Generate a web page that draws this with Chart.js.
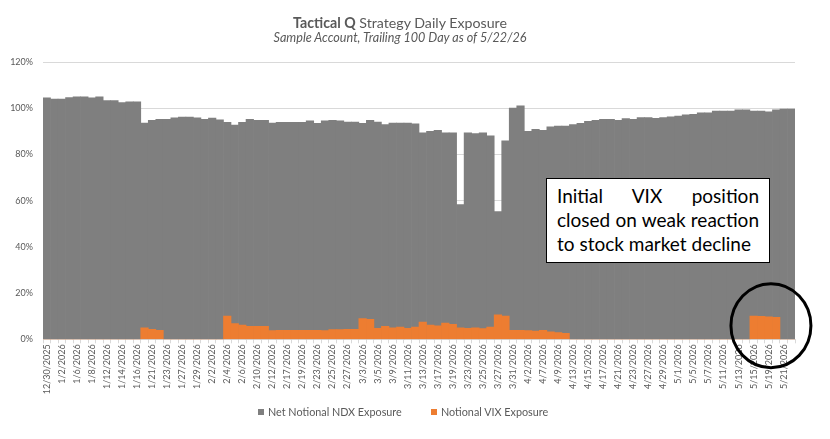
<!DOCTYPE html>
<html>
<head>
<meta charset="utf-8">
<title>Tactical Q Strategy Daily Exposure</title>
<script src="https://cdn.jsdelivr.net/npm/chart.js@4.4.1/dist/chart.umd.min.js"></script>
<style>
    body { margin: 0; background: #fff; font-family: Lato, "Open Sans", sans-serif; }
    #wrap { position: relative; width: 830px; height: 439px; }
    #exposureChart { position: absolute; left: 0; top: 0; }
    .chart-title { position: absolute; left: 0; width: 800px; text-align: center; color: #595959; white-space: nowrap; line-height: 1.2; }
    #title { top: 13.5px; font-size: 14.2px; }
    #subtitle { top: 29.5px; font-size: 12.6px; font-style: italic; }
    #note {
        position: absolute; left: 546px; top: 178px; width: 224px; height: 85px;
        box-sizing: border-box; border: 1px solid #000; background: #fff;
        padding: 5px 10px 0 10px; font-size: 19px; line-height: 24px; color: #000;
    }
    #note div { white-space: nowrap; }
    #note .just { text-align: justify; text-align-last: justify; }
    .legend-item { position: absolute; top: 404px; height: 16px; line-height: 16px; font-size: 10.8px; color: #595959; white-space: nowrap; }
    .legend-item i { display: inline-block; width: 6px; height: 6px; margin-right: 4px; vertical-align: 1px; }
</style>
</head>
<body>
<div id="wrap">
    <canvas id="exposureChart" width="830" height="439"></canvas>
    <div id="title" class="chart-title"><b>Tactical Q</b> Strategy Daily Exposure</div>
    <div id="subtitle" class="chart-title">Sample Account, Trailing 100 Day as of 5/22/26</div>
    <div id="note">
        <div class="just">Initial VIX position</div>
        <div class="just">closed on weak reaction</div>
        <div>to stock market decline</div>
    </div>
    <div id="legend"></div>
</div>
<script>
// Trading days shown on the x axis
const dates = [
    '12/30/2025', '12/31/2025', '1/2/2026', '1/5/2026', '1/6/2026', '1/7/2026', '1/8/2026', '1/9/2026', '1/12/2026', '1/13/2026',
    '1/14/2026', '1/15/2026', '1/16/2026', '1/20/2026', '1/21/2026', '1/22/2026', '1/23/2026', '1/26/2026', '1/27/2026', '1/28/2026',
    '1/29/2026', '1/30/2026', '2/2/2026', '2/3/2026', '2/4/2026', '2/5/2026', '2/6/2026', '2/9/2026', '2/10/2026', '2/11/2026',
    '2/12/2026', '2/13/2026', '2/17/2026', '2/18/2026', '2/19/2026', '2/20/2026', '2/23/2026', '2/24/2026', '2/25/2026', '2/26/2026',
    '2/27/2026', '3/2/2026', '3/3/2026', '3/4/2026', '3/5/2026', '3/6/2026', '3/9/2026', '3/10/2026', '3/11/2026', '3/12/2026',
    '3/13/2026', '3/16/2026', '3/17/2026', '3/18/2026', '3/19/2026', '3/20/2026', '3/23/2026', '3/24/2026', '3/25/2026', '3/26/2026',
    '3/27/2026', '3/30/2026', '3/31/2026', '4/1/2026', '4/2/2026', '4/6/2026', '4/7/2026', '4/8/2026', '4/9/2026', '4/10/2026',
    '4/13/2026', '4/14/2026', '4/15/2026', '4/16/2026', '4/17/2026', '4/20/2026', '4/21/2026', '4/22/2026', '4/23/2026', '4/24/2026',
    '4/27/2026', '4/28/2026', '4/29/2026', '4/30/2026', '5/1/2026', '5/4/2026', '5/5/2026', '5/6/2026', '5/7/2026', '5/8/2026',
    '5/11/2026', '5/12/2026', '5/13/2026', '5/14/2026', '5/15/2026', '5/18/2026', '5/19/2026', '5/20/2026', '5/21/2026', '5/22/2026'
];

// Net notional NDX exposure (%)
const ndxExposure = [
    104.5, 103.9, 103.9, 104.6, 104.9, 104.9, 104.5, 104.9, 103.3, 103.3,
    102.4, 102.8, 102.8, 93.6, 94.8, 95.2, 95.2, 95.8, 96.2, 96.2,
    95.8, 95.2, 95.7, 95.0, 93.9, 92.7, 93.9, 95.2, 94.8, 94.8,
    93.6, 93.9, 93.9, 93.9, 93.9, 94.5, 93.5, 94.5, 94.8, 94.5,
    94.0, 94.0, 93.5, 94.8, 94.0, 92.9, 93.6, 93.6, 93.6, 93.2,
    89.3, 90.0, 90.4, 89.3, 89.3, 58.3, 89.3, 89.0, 89.3, 88.0,
    55.3, 85.9, 100.1, 101.0, 90.0, 90.9, 90.4, 91.9, 92.3, 92.3,
    92.9, 93.5, 94.3, 94.8, 95.2, 95.2, 94.8, 95.5, 95.2, 95.9,
    95.9, 95.6, 95.9, 96.3, 96.6, 97.1, 97.4, 98.0, 98.0, 98.8,
    98.8, 98.8, 99.3, 99.3, 98.8, 98.8, 98.4, 99.3, 99.6, 99.6
];

// Notional VIX exposure (%)
const vixExposure = [
    0, 0, 0, 0, 0, 0, 0, 0, 0, 0,
    0, 0, 0, 5.0, 4.3, 3.9, 0, 0, 0, 0,
    0, 0, 0, 0, 10.1, 6.8, 6.1, 5.6, 5.6, 5.6,
    3.8, 3.9, 3.9, 3.9, 3.9, 3.9, 3.9, 3.8, 4.2, 4.2,
    4.3, 4.3, 9.0, 8.6, 4.8, 5.6, 5.0, 5.3, 4.8, 5.3,
    7.4, 6.1, 5.8, 7.0, 6.5, 5.0, 4.8, 5.0, 4.6, 5.3,
    10.6, 10.1, 3.9, 3.9, 3.8, 3.6, 3.9, 3.2, 2.9, 2.6,
    0, 0, 0, 0, 0, 0, 0, 0, 0, 0,
    0, 0, 0, 0, 0, 0, 0, 0, 0, 0,
    0, 0, 0, 0, 10.1, 9.9, 9.7, 9.5, 0, 0
];

// Y axis ticks (%)
const yTicks = [0, 20, 40, 60, 80, 100, 120];

const GRAY = '#7f7f7f';
const ORANGE = '#ed7d31';
const TEXT = '#595959';
const GRID = '#d9d9d9';

// Circle drawn round the last VIX position (in data units)
const circleAt = { index: 96.3, value: 5.9 };

const circlePlugin = {
    id: 'circleNote',
    afterDraw(chart) {
        const { ctx, scales } = chart;
        const cx = scales.x.getPixelForValue(circleAt.index);
        const cy = scales.y.getPixelForValue(circleAt.value);
        ctx.save();
        ctx.beginPath();
        ctx.ellipse(cx, cy, 40, 42, 0, 0, Math.PI * 2);
        ctx.lineWidth = 3;
        ctx.strokeStyle = '#000';
        ctx.stroke();
        ctx.restore();
    }
};

// Build legend below the axis labels (Excel-style spacing)
function renderLegend(chart) {
    const legend = document.getElementById('legend');
    const lefts = [258, 431];
    chart.data.datasets.forEach((ds, i) => {
        const item = document.createElement('div');
        item.className = 'legend-item';
        item.style.left = lefts[i] + 'px';
        item.innerHTML = `<i style="background:${ds.backgroundColor}"></i>${ds.label}`;
        legend.appendChild(item);
    });
}

// Render chart
function renderChart() {
    const ctx = document.getElementById('exposureChart').getContext('2d');
    Chart.defaults.font.family = 'Lato, "Open Sans", sans-serif';
    Chart.defaults.color = TEXT;

    const chart = new Chart(ctx, {
        type: 'bar',
        data: {
            labels: dates,
            datasets: [
                {
                    label: 'Net Notional NDX Exposure',
                    data: ndxExposure,
                    backgroundColor: GRAY,
                    borderWidth: 0,
                    order: 1
                },
                {
                    label: 'Notional VIX Exposure',
                    data: vixExposure,
                    backgroundColor: ORANGE,
                    borderWidth: 0,
                    order: 0
                }
            ]
        },
        options: {
            responsive: false,
            animation: false,
            grouped: false,
            barPercentage: 1,
            categoryPercentage: 1,
            layout: { padding: { top: 62, right: 35, bottom: 42.7, left: 0 } },
            plugins: {
                title: { display: false },
                tooltip: { enabled: false },
                legend: { display: false }
            },
            scales: {
                x: {
                    afterFit: (scale) => { scale.height = 57; },
                    grid: { drawOnChartArea: false, offset: true, tickLength: 4, color: GRID },
                    border: { color: GRID },
                    ticks: {
                        autoSkip: false,
                        minRotation: 90,
                        maxRotation: 90,
                        padding: 1,
                        font: { size: 9 },
                        color: TEXT,
                        callback: function(value, index) {
                            return index % 2 === 0 ? this.getLabelForValue(value) : '';
                        }
                    }
                },
                y: {
                    min: yTicks[0],
                    max: yTicks[yTicks.length - 1],
                    afterFit: (scale) => { scale.width = 43; },
                    afterBuildTicks: (scale) => { scale.ticks = yTicks.map(v => ({ value: v })); },
                    grid: { color: GRID, drawTicks: false },
                    border: { display: false },
                    ticks: {
                        padding: 10,
                        font: { size: 9 },
                        color: TEXT,
                        callback: (v) => v + '%'
                    }
                }
            }
        },
        plugins: [circlePlugin]
    });

    renderLegend(chart);
}

document.addEventListener('DOMContentLoaded', renderChart);
</script>
</body>
</html>
